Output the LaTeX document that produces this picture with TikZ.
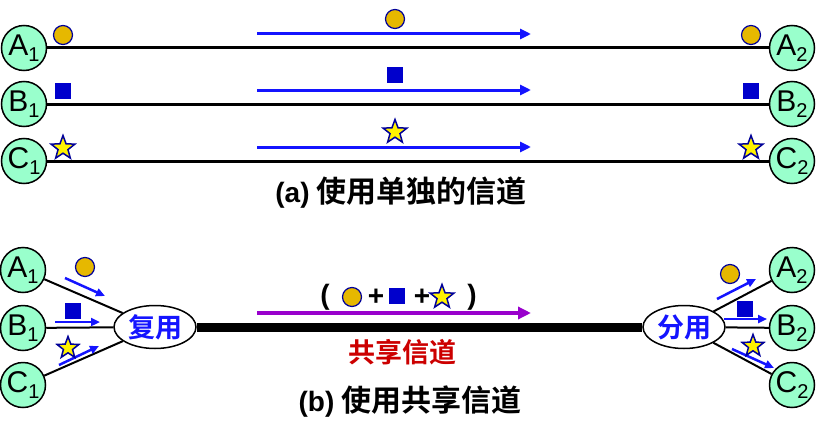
\documentclass[tikz,border=0pt]{standalone}
\usepackage{fontspec}
\setmainfont{Liberation Sans}
\newfontfamily\cjk{Noto Sans CJK SC}[BoldFont={Noto Sans CJK SC Bold}]
\usetikzlibrary{shapes.geometric,arrows.meta}

\definecolor{mint}{RGB}{153,255,204}
\definecolor{gold}{RGB}{230,184,0}
\definecolor{navy}{RGB}{0,0,153}
\definecolor{sqblue}{RGB}{0,0,204}
\definecolor{flow}{RGB}{20,20,255}
\definecolor{mixflow}{RGB}{153,0,204}
\definecolor{sharedred}{RGB}{204,0,0}

\newcommand\lowidx[1]{\raisebox{-0.4ex}{\fontsize{20}{20}\selectfont #1}}

\tikzset{
  host/.style={draw, line width=1.5pt, fill=mint, circle, minimum size=45pt, inner sep=0pt,
    font=\fontsize{30}{30}\selectfont},
  coin/.style={draw=navy, fill=gold, circle, minimum size=19pt, inner sep=0pt, line width=1.2pt},
  block/.style={fill=sqblue, minimum size=16pt, inner sep=0pt},
  starmark/.style={star, star points=5, star point ratio=2.4, draw=navy, fill=yellow,
    minimum size=25pt, inner sep=0pt, line width=1.5pt},
  flowarrow/.style={flow, line width=3pt, -{Triangle[length=11pt,width=10pt]}},
  smallflow/.style={flow, line width=2.5pt, -{Triangle[length=9pt,width=8pt]}},
  mux/.style={draw, line width=1.5pt, fill=white, ellipse, minimum width=82pt, minimum height=43pt,
    inner sep=0pt, text=flow, font=\cjk\bfseries\fontsize{27}{27}\selectfont},
  caption/.style={font=\bfseries\fontsize{28}{28}\selectfont}
}

\begin{document}
\begin{tikzpicture}[x=1pt, y=-1pt]
  \useasboundingbox (0,0) rectangle (818,428);
  % (a) one channel per pair
  \foreach \r/\y/\mk in {A/48/coin, B/104/block, C/161/starmark}
  {
    \node[host] (\r1) at (24,\y) {\r\lowidx{1}};
    \node[host] (\r2) at (792,\y) {\r\lowidx{2}};
    \draw[line width=3pt] (\r1) -- (\r2);
    \draw[flowarrow] (257,\y-14) -- (531,\y-14);
    \node[\mk] at (63,\y-13) {};
    \node[\mk] at (395,\y-29) {};
    \node[\mk] at (751,\y-13) {};
  }
  \node[caption] (capa) at (401,193) {(a)\hspace{7pt}{\cjk\bfseries\fontsize{30}{30}\selectfont 使用单独的信道}};

  % (b) shared channel
  \node[mux] (mux) at (155,327) {复用};
  \node[mux] (demux) at (684,327) {分用};
  \foreach \r/\y in {A/270, B/328, C/385}
  {
    \node[host] (s\r) at (23,\y) {\r\lowidx{1}};
    \node[host] (d\r) at (792,\y) {\r\lowidx{2}};
    \draw[line width=2pt] (s\r) -- (mux);
    \draw[line width=2pt] (demux) -- (d\r);
  }
  \draw[line width=9pt] (mux.east) -- (demux.west);
  \draw[mixflow, line width=4pt, -{Triangle[length=13pt,width=12pt]}] (257,313) -- (531,313);

  \node[caption] (lp) at (325,297) {(};
  \node[coin] (mc) at (352,297) {};
  \node[caption] (p1) at (376,297) {+};
  \node[block] (mb) at (397,296) {};
  \node[caption] (p2) at (422,297) {+};
  \node[starmark] (ms) at (442,297) {};
  \node[caption] (rp) at (472,297) {)};
  \node[caption, text=sharedred] (shared) at (402,352) {\cjk\bfseries\fontsize{27}{27}\selectfont 共享信道};

  % multiplexer side
  \draw[smallflow] (65,278) -- (105,296);
  \draw[smallflow] (55,322) -- (100,322);
  \draw[smallflow] (59,365) -- (99,346);
  \node[coin] at (85,267) {};
  \node[block] at (73,311) {};
  \node[starmark, minimum size=23pt] at (68,348) {};

  % demultiplexer side
  \draw[smallflow] (717,299) -- (756,279);
  \draw[smallflow] (724,319) -- (767,319);
  \draw[smallflow] (732,349) -- (774,368);
  \node[coin] at (730,274) {};
  \node[block] at (745,309) {};
  \node[starmark, minimum size=23pt] at (753,346) {};

  \node[caption] (capb) at (410,402) {(b)\hspace{7pt}{\cjk\bfseries\fontsize{30}{30}\selectfont 使用共享信道}};
\end{tikzpicture}
\end{document}
